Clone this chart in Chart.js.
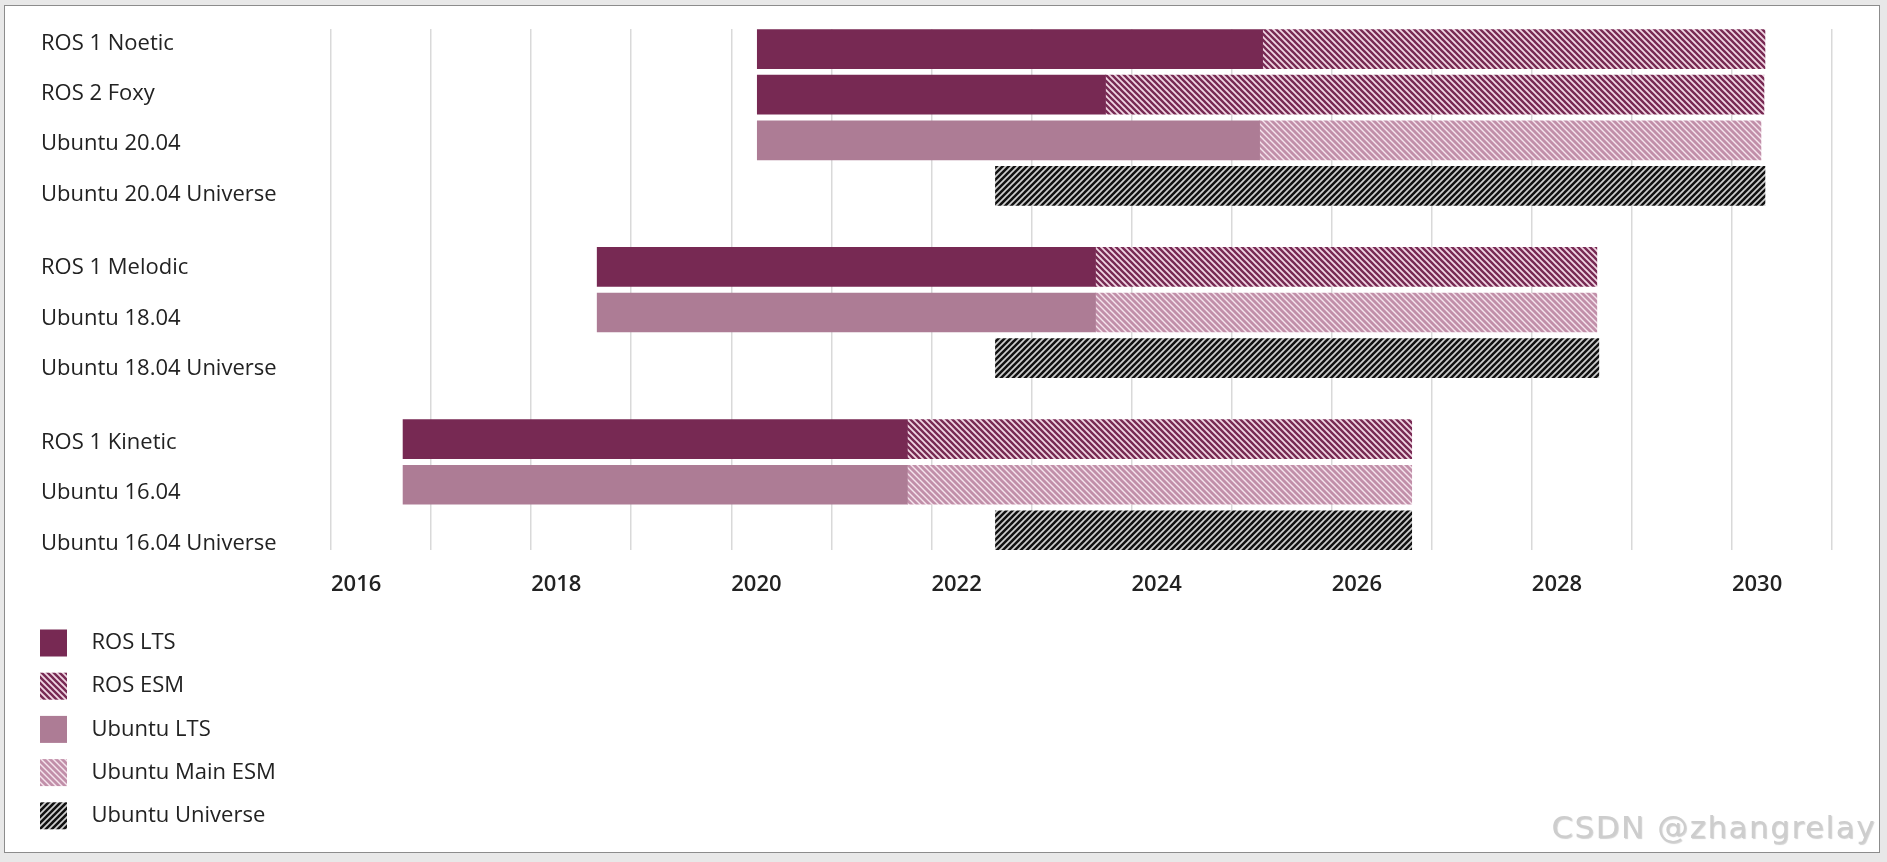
<!DOCTYPE html>
<html><head><meta charset="utf-8">
<script src="https://cdn.jsdelivr.net/npm/chart.js@4.4.1/dist/chart.umd.min.js"></script>
<style>
html,body{margin:0;padding:0;background:#e8e8e8;width:1887px;height:862px;overflow:hidden;}
#frame{position:absolute;left:4px;top:5px;width:1874px;height:846px;border:1px solid #8c8c8c;background:#fff;}
#c{position:absolute;left:0;top:0;}
#wm{position:absolute;right:3px;top:803px;font-family:"DejaVu Sans";font-size:31px;letter-spacing:1.5px;color:#cdcdcd;text-shadow:1px 1px 1px rgba(0,0,0,0.18);white-space:nowrap;}
</style></head>
<body>
<div id="frame"><canvas id="c" width="1874" height="846"></canvas><div id="wm">CSDN @zhangrelay</div></div>
<script>
// ---- data ----
const categories = ['ROS 1 Noetic','ROS 2 Foxy','Ubuntu 20.04','Ubuntu 20.04 Universe','ROS 1 Melodic','Ubuntu 18.04','Ubuntu 18.04 Universe','ROS 1 Kinetic','Ubuntu 16.04','Ubuntu 16.04 Universe'];
const groupOf = [0,0,0,0,1,1,1,2,2,2];
const seriesNames = ['ROS LTS','ROS ESM','Ubuntu LTS','Ubuntu Main ESM','Ubuntu Universe'];
const rosLTS        = [[2020.26,2025.31],[2020.26,2023.74],null,null,[2018.66,2023.64],null,null,[2016.72,2021.76],null,null];
const rosESM        = [[2025.31,2030.33],[2023.74,2030.32],null,null,[2023.64,2028.65],null,null,[2021.76,2026.80],null,null];
const ubuntuLTS     = [null,null,[2020.26,2025.28],null,null,[2018.66,2023.64],null,null,[2016.72,2021.76],null];
const ubuntuMainESM = [null,null,[2025.28,2030.29],null,null,[2023.64,2028.65],null,null,[2021.76,2026.80],null];
const ubuntuUniverse= [null,null,null,[2022.64,2030.33],null,null,[2022.64,2028.67],null,null,[2022.64,2026.80]];
const xTickLabels = [2016,2018,2020,2022,2024,2026,2028,2030];
const yearMin = 2016, yearMax = 2031;

// ---- layout constants ----
const ROW_GROUP_EXTRA = 0.775;      // extra space between groups (rows)
const LABEL_START = -0.124, LABEL_STEP = 1.102, LABEL_GROUP_EXTRA = 0.519;
const FONT = '"Open Sans", "Noto Sans", sans-serif';

const rowPos = categories.map((c,i)=> i + groupOf[i]*ROW_GROUP_EXTRA);
const labelPos = categories.map((c,i)=> LABEL_START + i*LABEL_STEP + groupOf[i]*LABEL_GROUP_EXTRA);

function makePattern(bg, fg, dir, size, lw){
  const cv = document.createElement('canvas'); cv.width = size; cv.height = size;
  const g = cv.getContext('2d');
  g.fillStyle = bg; g.fillRect(0,0,size,size);
  g.strokeStyle = fg; g.lineWidth = lw; g.lineCap = 'square';
  for (const x0 of [-size, 0, size]) {
    g.beginPath();
    if (dir === '\\') { g.moveTo(x0, 0); g.lineTo(x0+size, size); }
    else { g.moveTo(x0, size); g.lineTo(x0+size, 0); }
    g.stroke();
  }
  return g.createPattern(cv, 'repeat');
}
const ctxMain = document.getElementById('c').getContext('2d');
const styles = [
  '#772953',
  makePattern('#f0d6e3', '#772953', '\\', 6, 2.4),
  '#ad7c95',
  makePattern('#f5e4ed', '#c18fa9', '\\', 6, 2.8),
  makePattern('#cfcfcf', '#111111', '/', 6, 2.5)
];
const seriesData = [rosLTS, rosESM, ubuntuLTS, ubuntuMainESM, ubuntuUniverse];

const datasets = seriesNames.map((name, k) => ({
  label: name,
  data: seriesData[k].map((r,i)=> r ? {x: r, y: rowPos[i]} : null).filter(Boolean),
  backgroundColor: styles[k],
  borderWidth: 0,
  borderSkipped: false,
  barThickness: 39,
  grouped: false
}));

const legendPlugin = {
  id: 'verticalLegend',
  afterDraw(chart){
    const ctx = chart.ctx;
    ctx.save();
    chart.data.datasets.forEach((ds, i) => {
      const cy = 637 + i*43.2;
      ctx.fillStyle = ds.backgroundColor;
      ctx.fillRect(35, cy-13.5, 27, 27);
      ctx.fillStyle = '#222';
      ctx.font = '22px ' + FONT;
      ctx.textBaseline = 'middle';
      ctx.textAlign = 'left';
      ctx.fillText(ds.label, 86.5, cy);
    });
    ctx.restore();
  }
};

new Chart(ctxMain, {
  type: 'bar',
  data: { datasets },
  plugins: [legendPlugin],
  options: {
    indexAxis: 'y',
    responsive: false,
    animation: false,
    events: [],
    layout: { padding: { left: 36, top: 23, right: 47, bottom: 252 } },
    plugins: { legend: { display: false }, tooltip: { enabled: false } },
    scales: {
      x: {
        type: 'linear', min: yearMin, max: yearMax,
        grid: { color: '#d9d9d9', lineWidth: 1.5, drawTicks: false },
        border: { display: false },
        ticks: {
          stepSize: 1, autoSkip: false, maxRotation: 0, align: 'start', padding: 22,
          color: '#222', font: { family: FONT, size: 22, weight: '600' },
          callback: v => xTickLabels.includes(v) ? String(v) : ''
        },
        afterFit: s => { s.height = 50; }
      },
      y: {
        type: 'linear', reverse: true, min: -0.44, max: 10.98, offset: false,
        grid: { display: false, offset: false }, border: { display: false },
        afterBuildTicks: s => { s.ticks = labelPos.map(v => ({ value: v })); },
        ticks: {
          autoSkip: false, crossAlign: 'far', color: '#222',
          font: { family: FONT, size: 22 },
          callback: (v, i) => categories[i]
        },
        afterFit: s => { s.width = 290; }
      }
    }
  }
});
</script>
</body></html>
